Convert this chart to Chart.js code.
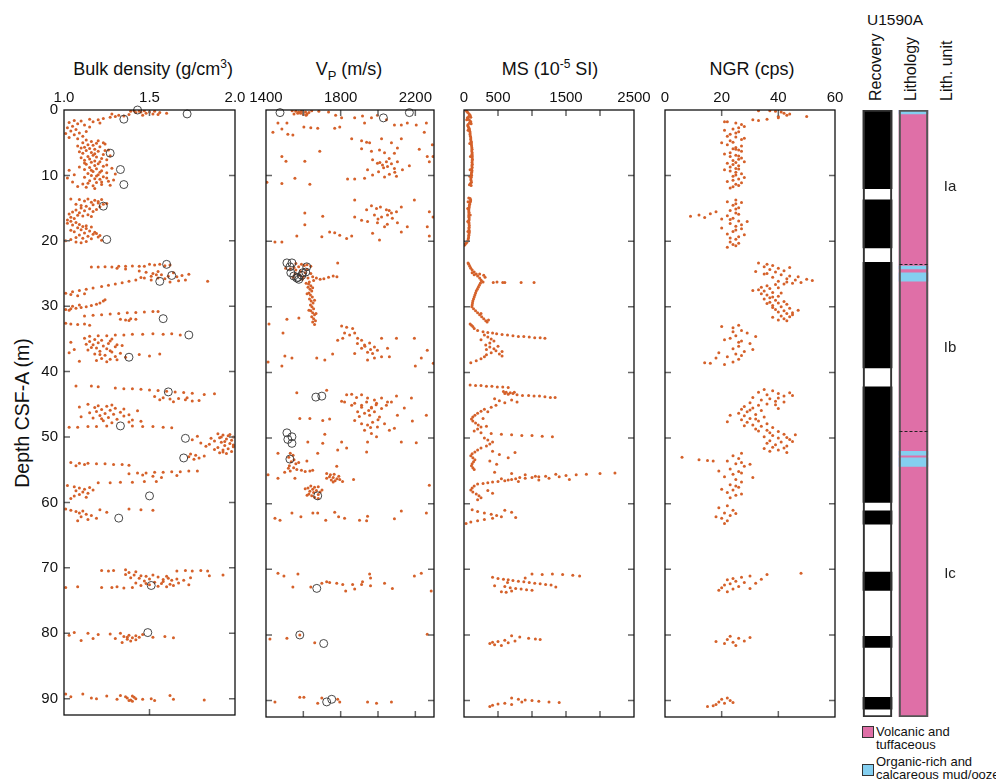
<!DOCTYPE html>
<html>
<head>
<meta charset="utf-8">
<script src="https://cdn.jsdelivr.net/npm/chart.js@4.4.0/dist/chart.umd.min.js"></script>
<style>
body { margin: 0; background: #fff; font-family: "Liberation Sans", Arial, sans-serif; color: #111; }
#wrap { position: relative; width: 996px; height: 781px; overflow: hidden; }
canvas { position: absolute; }
.ttl { position: absolute; top: 59px; font-size: 18px; line-height: 20px; transform: translateX(-50%); white-space: nowrap; }
sup { font-size: 12px; line-height: 0; vertical-align: 7px; }
sub { font-size: 13px; line-height: 0; vertical-align: -5px; }
.rot { position: absolute; font-size: 16px; line-height: 18px; transform-origin: 0 0; transform: rotate(-90deg); white-space: nowrap; }
.sw { position: absolute; width: 10px; height: 10px; border: 1px solid #333; }
.lg { position: absolute; font-size: 13px; line-height: 13px; white-space: nowrap; }
</style>
</head>
<body>
<div id="wrap">
  <div class="ttl" style="left:153px">Bulk density (g/cm<sup>3</sup>)</div>
  <div class="ttl" style="left:349px">V<sub>P</sub> (m/s)</div>
  <div class="ttl" style="left:550px">MS (10<sup>-5</sup> SI)</div>
  <div class="ttl" style="left:752px">NGR (cps)</div>
  <div style="position:absolute;left:22px;top:413px;font-size:19.5px;white-space:nowrap;transform:translate(-50%,-50%) rotate(-90deg)">Depth CSF-A (m)</div>

  <div style="position:absolute;left:895px;top:11px;font-size:15.5px;line-height:18px;transform:translateX(-50%)">U1590A</div>
  <div class="rot" style="left:866.5px;top:101px">Recovery</div>
  <div class="rot" style="left:902px;top:101px">Lithology</div>
  <div class="rot" style="left:938px;top:101px">Lith. unit</div>

  <div class="sw" style="left:862px;top:726px;background:#df6fa7"></div>
  <div class="lg" style="left:876px;top:725px">Volcanic and<br>tuffaceous</div>
  <div class="sw" style="left:862px;top:764px;background:#84cff0"></div>
  <div class="lg" style="left:876px;top:754.5px">Organic-rich and<br>calcareous mud/ooze</div>

  <canvas id="c1" width="255" height="650" style="left:0px;top:80px"></canvas>
  <canvas id="c2" width="215" height="650" style="left:240px;top:80px"></canvas>
  <canvas id="c3" width="215" height="650" style="left:440px;top:80px"></canvas>
  <canvas id="c4" width="215" height="650" style="left:640px;top:80px"></canvas>
  <canvas id="c5" width="120" height="650" style="left:850px;top:80px"></canvas>
</div>
<script>
// depth axis shared by every panel
const DEPTH_MAX = 92.5;
const depthTicks = [0, 10, 20, 30, 40, 50, 60, 70, 80, 90];

// [depth m, value] pairs
const densityPts = [
  [0.1,1.41],[0.2,1.44],[0.1,1.47],[0.3,1.50],[0.2,1.53],[0.4,1.56],[0.3,1.45],[0.5,1.48],[0.6,1.52],[0.4,1.42],[0.7,1.38],[0.8,1.32],[0.6,1.28],[0.9,1.35],[1.0,1.30],[0.5,1.60],[0.8,1.46],[0.2,1.39],[0.7,1.55],[1.1,1.27],
  [1.3,1.23],[1.5,1.20],[1.4,1.15],[1.7,1.10],[1.6,1.06],[1.9,1.03],[2.1,1.08],[1.8,1.17],[2.3,1.12],[2.5,1.05],[2.7,1.02],[3.0,1.07],[3.2,1.04],[3.5,1.09],[3.3,1.13],[3.8,1.06],[4.0,1.11],[4.2,1.03],[2.0,1.21],[2.6,1.15],[3.6,1.01],[4.4,1.08],
  [4.6,1.13],[4.8,1.16],[5.0,1.11],[5.1,1.19],[5.3,1.14],[5.4,1.17],[5.6,1.21],[5.7,1.12],[5.9,1.15],[6.0,1.18],[6.2,1.13],[6.3,1.20],[6.5,1.16],[6.6,1.11],[6.8,1.23],[6.9,1.17],[7.1,1.14],[7.2,1.19],[7.4,1.22],[7.5,1.15],[7.7,1.12],[7.8,1.18],[5.2,1.24],[6.1,1.26],[7.0,1.27],[6.4,1.09],[5.5,1.08],[7.6,1.25],
  [4.7,1.20],[5.0,1.23],[5.8,1.10],[6.2,1.24],[6.7,1.18],[7.3,1.10],[7.9,1.21],[8.4,1.25],[8.1,1.12],
  [8.0,1.16],[8.2,1.20],[8.3,1.13],[8.5,1.18],[8.6,1.23],[8.8,1.15],[9.0,1.19],[9.1,1.12],[9.3,1.22],[9.4,1.17],[9.6,1.25],[9.7,1.14],[9.9,1.20],[10.0,1.16],[10.2,1.23],[10.3,1.12],[10.5,1.18],[10.6,1.21],[10.8,1.15],[10.9,1.26],[11.1,1.19],[11.2,1.14],[11.4,1.22],[11.6,1.17],[11.8,1.13],[8.9,1.28],[9.8,1.30],[10.7,1.29],[11.5,1.27],[9.2,1.03],[9.9,1.06],[10.4,1.02],[11.0,1.05],[11.7,1.08],[8.7,1.09],
  [9.2,1.16],[9.5,1.21],[10.1,1.19],[10.4,1.25],[11.3,1.11],[11.0,1.22],[12.0,1.18],
  [13.6,1.04],[13.7,1.09],[13.6,1.14],[13.8,1.18],[13.7,1.22],[13.9,1.12],[14.1,1.16],[14.2,1.20],[14.4,1.23],[14.5,1.17],[14.7,1.13],[14.8,1.21],[15.0,1.10],[15.1,1.15],[15.3,1.07],[15.4,1.12],[15.6,1.05],[15.7,1.09],[15.9,1.03],[16.1,1.08],[16.2,1.11],[16.4,1.04],[16.6,1.06],[15.2,1.19],[14.3,1.25],[16.0,1.14],[16.8,1.02],
  [14.0,1.20],[14.6,1.10],[15.5,1.17],[14.4,1.07],[16.3,1.16],
  [17.0,1.04],[17.2,1.07],[17.3,1.02],[17.5,1.09],[17.6,1.05],[17.8,1.11],[18.0,1.08],[18.1,1.13],[18.3,1.10],[18.5,1.15],[18.6,1.06],[18.8,1.12],[19.0,1.17],[19.1,1.09],[19.3,1.14],[19.4,1.20],[19.6,1.11],[19.7,1.16],[19.9,1.22],[20.1,1.13],[20.2,1.07],[18.9,1.19],[19.8,1.04],[17.9,1.16],[20.0,1.01],
  [17.7,1.13],[18.4,1.04],[18.7,1.18],[19.2,1.21],[19.5,1.07],[20.3,1.10],
  [23.6,1.50],[23.7,1.53],[23.6,1.56],[23.8,1.59],[23.7,1.62],[23.9,1.47],[24.0,1.16],[24.0,1.20],[23.95,1.24],[24.0,1.28],[23.9,1.32],[23.9,1.36],[23.85,1.40],[23.9,1.44],[24.2,1.31],[24.3,1.36],
  [24.6,1.44],[24.8,1.48],[25.0,1.52],[25.2,1.57],[25.4,1.61],[25.5,1.66],[25.3,1.69],[25.1,1.73],[25.8,1.59],[26.0,1.51],[25.6,1.45],[24.9,1.64],[26.1,1.67],[26.2,1.84],[26.0,1.71],[25.7,1.55],[26.3,1.62],[24.7,1.55],
  [28.0,1.01],[27.8,1.05],[27.6,1.09],[27.4,1.13],[27.2,1.17],[27.0,1.22],[26.8,1.26],[26.6,1.30],[26.4,1.34],[26.2,1.38],[26.0,1.42],[25.7,1.47],[25.4,1.51],[25.2,1.54],[28.2,1.04],[28.4,1.08],[28.1,1.12],
  [30.5,1.01],[30.4,1.04],[30.3,1.07],[30.2,1.10],[30.1,1.13],[29.9,1.16],[29.7,1.19],[29.5,1.21],[29.2,1.23],[29.0,1.24],[30.0,1.05],[29.8,1.09],[30.6,1.03],
  [31.5,1.12],[31.4,1.17],[31.3,1.22],[31.2,1.27],[31.1,1.32],[31.0,1.37],[30.95,1.42],[30.9,1.47],[30.8,1.52],[30.8,1.55],[32.0,1.33],[32.1,1.36],[31.9,1.39],[32.0,1.42],[32.2,1.38],
  [32.6,1.01],[32.7,1.04],[32.8,1.08],[32.7,1.12],[32.9,1.15],
  [34.6,1.15],[34.5,1.20],[34.5,1.25],[34.4,1.30],[34.4,1.35],[34.3,1.40],[34.3,1.46],[34.2,1.52],[34.3,1.58],[34.2,1.63],[34.4,1.68],
  [34.9,1.12],[35.1,1.18],[35.2,1.22],[35.4,1.15],[35.6,1.20],[35.7,1.26],[35.9,1.17],[36.1,1.23],[36.2,1.30],[36.4,1.19],[36.5,1.25],[36.7,1.14],[36.9,1.21],[37.0,1.28],[37.2,1.33],[37.3,1.18],[37.5,1.24],[37.7,1.30],[37.8,1.36],[38.0,1.22],[38.1,1.27],[38.3,1.19],[38.5,1.25],[35.0,1.28],[36.0,1.34],[37.4,1.44],[37.6,1.50],[37.3,1.56],[35.5,1.04],[36.6,1.06],[37.1,1.03],[38.4,1.09],
  [35.3,1.27],[35.8,1.13],[36.3,1.16],[36.8,1.27],[37.4,1.21],[38.2,1.31],[35.9,1.31],
  [42.2,1.07],[42.2,1.16],[42.3,1.20],
  [42.5,1.30],[42.6,1.35],[42.6,1.40],[42.7,1.45],[42.8,1.50],[42.9,1.55],[43.0,1.60],[43.1,1.65],[43.2,1.70],[43.3,1.75],[43.5,1.82],[43.4,1.88],
  [43.8,1.53],[44.0,1.58],[44.2,1.62],[44.1,1.67],[44.3,1.71],[44.5,1.75],[44.4,1.79],[44.6,1.64],[44.0,1.72],[44.3,1.56],
  [45.0,1.14],[45.2,1.20],[45.3,1.25],[45.5,1.18],[45.6,1.30],[45.8,1.22],[45.9,1.27],[46.1,1.19],[46.2,1.33],[46.4,1.24],[46.5,1.29],[46.7,1.21],[46.8,1.35],[47.0,1.26],[47.1,1.17],[47.3,1.31],[47.5,1.23],[47.7,1.38],[47.8,1.28],[46.0,1.43],[45.4,1.09],[46.9,1.10],[47.6,1.45],
  [45.7,1.35],[46.3,1.15],[46.6,1.38],[47.2,1.22],[47.4,1.40],[45.1,1.28],
  [48.5,1.03],[48.5,1.08],[48.4,1.14],[48.4,1.19],[48.3,1.25],[48.3,1.40],[48.4,1.46],[48.4,1.52],[48.5,1.58],[48.6,1.63],
  [49.5,1.90],[49.7,1.93],[49.8,1.96],[50.0,1.99],[50.1,1.91],[50.3,1.95],[50.5,1.98],[50.6,1.88],[50.8,1.92],[51.0,1.97],[51.1,1.85],[51.3,1.94],[51.5,1.99],[51.6,1.90],[51.8,1.96],[52.0,1.93],[52.2,1.98],[52.4,1.91],[52.5,1.95],[49.9,1.78],[50.4,1.75],[50.9,1.80],[51.4,1.83],[50.2,1.86],
  [49.6,1.97],[50.7,1.94],[51.2,1.99],[51.9,1.88],[52.3,1.93],[50.0,1.92],
  [52.6,1.74],[52.8,1.77],[53.0,1.73],[53.2,1.79],[53.4,1.76],[52.9,1.82],
  [53.9,1.04],[54.0,1.09],[54.0,1.14],[54.1,1.19],[54.1,1.24],[54.2,1.29],[54.2,1.34],[54.3,1.38],[54.2,1.12],[54.4,1.07],
  [55.6,1.38],[55.5,1.43],[55.5,1.48],[55.4,1.53],[55.4,1.58],[55.3,1.63],[55.3,1.68],[55.2,1.73],[55.2,1.78],[55.8,1.46],[56.0,1.52],[56.2,1.57],[55.9,1.66],
  [57.0,1.20],[57.0,1.27],[56.9,1.33],[56.9,1.40],[56.8,1.47],[56.8,1.54],
  [57.4,1.02],[57.6,1.06],[57.8,1.09],[58.0,1.12],[58.2,1.07],[58.4,1.11],[58.6,1.14],[58.8,1.09],[59.0,1.06],[59.2,1.13],[59.4,1.04],[58.1,1.17],[57.7,1.15],
  [61.0,1.01],[61.2,1.04],[61.4,1.07],[61.3,1.11],[61.6,1.09],[61.8,1.13],[62.0,1.16],[62.2,1.10],[62.4,1.19],[62.6,1.14],[61.1,1.21],[61.0,1.38],[61.1,1.45],[61.2,1.52],[62.8,1.08],[61.5,1.25],
  [70.4,1.22],[70.5,1.26],[70.4,1.29],[70.3,1.36],[70.6,1.42],[70.5,1.66],[70.4,1.71],[70.5,1.75],[70.4,1.80],[70.5,1.84],[70.7,1.38],
  [71.0,1.36],[71.1,1.41],[71.2,1.45],[71.3,1.48],[71.1,1.52],[71.4,1.55],[71.5,1.39],[71.6,1.44],[71.7,1.50],[71.8,1.58],[71.6,1.61],[71.7,1.66],[71.9,1.70],[71.5,1.74],[72.0,1.47],[72.2,1.53],[72.3,1.42],[72.4,1.57],[72.5,1.62],[72.3,1.67],[72.6,1.50],[72.8,1.55],[72.7,1.45],[73.0,1.40],[73.1,1.35],[72.9,1.60],[72.6,1.73],
  [71.9,1.63],[72.1,1.58],[72.4,1.48],[71.3,1.60],[72.7,1.64],[71.2,1.85],[71.1,1.93],
  [73.0,1.01],[72.9,1.08],[73.0,1.22],[73.0,1.28],[72.9,1.31],
  [79.9,1.06],[80.3,1.03],[80.0,1.14],[80.2,1.20],[80.1,1.27],[80.0,1.33],[80.3,1.38],[80.5,1.35],[80.7,1.40],[80.6,1.44],[80.9,1.37],[81.0,1.42],[81.2,1.39],[80.8,1.30],[81.4,1.34],[80.2,1.46],[80.6,1.52],[80.5,1.59],[80.7,1.64],[81.1,1.10],[80.8,1.17],
  [80.4,1.42],[80.6,1.37],
  [89.3,1.01],[89.7,1.04],[89.3,1.11],[89.9,1.16],[90.0,1.19],[89.6,1.25],[90.1,1.31],[89.5,1.33],[89.9,1.37],[90.2,1.39],[89.6,1.40],[90.0,1.42],[90.3,1.38],[89.8,1.41],[90.1,1.46],[90.4,1.40],[89.7,1.36],[90.0,1.51],[90.3,1.53],[89.5,1.62],[90.1,1.64],[90.2,1.82]
];
const densityDisc = [
  [0.0,1.43],[0.6,1.72],[1.4,1.35],[6.6,1.27],[9.1,1.33],[11.4,1.35],[14.7,1.23],[19.8,1.25],[23.6,1.60],[25.3,1.63],[26.2,1.56],
  [31.9,1.58],[34.4,1.73],[37.8,1.38],[43.1,1.61],[48.3,1.33],[50.2,1.71],[53.2,1.70],[59.0,1.50],[62.4,1.32],[72.7,1.51],[79.9,1.49]
];

const vpPts = [
  [0.1,1540],[0.2,1560],[0.3,1575],[0.2,1590],[0.4,1600],[0.3,1612],[0.5,1585],[0.6,1620],[0.4,1630],[0.1,1645],[0.5,1570],[0.7,1600],[0.2,1683],[0.3,1735],[0.8,1615],[0.6,1550],
  [0.8,1773],[1.2,1805],[1.2,1875],[0.9,1917],[1.2,1965],[0.8,1997],[1.5,2045],[2.3,2088],[2.3,2125],[2.0,2157],[2.3,2205],[3.4,2248],[2.0,2259],[2.6,1795],[2.0,1928],
  [3.4,1437],[2.0,1464],[2.9,1485],[2.0,1512],[3.7,1517],[3.8,1544],[2.6,1603],[2.7,1640],[2.8,1677],[2.8,1768],
  [4.4,1859],[4.7,1912],[4.9,1939],[5.0,1955],[4.4,2019],[5.0,2072],[4.4,2125],[6.0,2221],[5.9,1912],[6.3,1965],[6.1,2008],[6.5,2035],[6.6,2088],[5.8,2104],
  [7.6,1971],[8.1,1997],[8.4,2024],[7.9,2045],[8.6,2051],[8.2,2072],[8.9,2088],[7.9,2104],[9.1,2131],[8.5,2168],[9.1,1944],[9.9,1971],[9.4,2003],[10.2,2035],[9.8,2061],[10.1,2099],
  [8.0,2010],[8.8,2030],[9.5,2090],[7.4,2060],
  [10.5,1875],[10.4,1928],[10.5,1837],[7.1,2264],[7.9,2275],[5.3,2291],[7.1,2295],
  [7.1,1485],[7.8,1507],[7.8,1608],[6.3,1688],[10.4,1555],[11.2,1485],[11.3,1635],[11.0,1405],
  [13.7,1875],[15.2,1939],[14.6,1965],[15.0,1992],[14.8,2013],[15.2,2045],[15.7,2072],[15.5,2099],[14.8,2125],[16.0,1981],[16.3,2019],[16.0,2051],[16.5,2077],
  [15.3,2060],[16.6,2000],[17.4,2050],
  [16.3,1875],[16.8,1912],[17.0,1944],[17.2,1997],[17.8,2035],[17.2,2104],[17.8,2157],[13.7,2195],[15.5,2275],[16.3,2295],[17.8,2264],[18.8,1971],[19.8,2008],[18.6,2125],[19.2,2275],
  [18.6,1741],[18.7,1768],[19.1,1795],[19.6,1832],[19.2,1859],[19.3,1699],[19.2,1565],[20.1,1448],[20.1,1485],[15.7,1608],[16.2,1704],[17.5,1608],
  [23.4,1560],[23.5,1590],[23.6,1620],[23.7,1605],[23.9,1575],[24.0,1550],[24.2,1530],[24.4,1560],[24.6,1585],[24.8,1610],[25.0,1555],[25.2,1580],[25.4,1600],[25.6,1625],[25.8,1595],[24.3,1620],[24.9,1640],[24.1,1505],[25.5,1545],[23.8,1640],
  [25.4,1650],[25.6,1670],[25.8,1690],[25.7,1710],[25.5,1735],[25.3,1760],[25.4,1780],[26.0,1655],[23.3,1784],
  [26.2,1632],[26.5,1628],[26.8,1640],[27.0,1625],[27.3,1636],[27.6,1645],[27.9,1630],[28.2,1638],[28.5,1648],[28.8,1633],[29.1,1642],[29.4,1652],[29.7,1638],[30.0,1646],[30.3,1655],[30.6,1640],[30.9,1650],[31.2,1660],[31.5,1645],[31.8,1655],[32.1,1665],[32.3,1650],[27.1,1650],[28.0,1620],[29.0,1660],[30.5,1630],[31.0,1668],[26.4,1615],[32.7,1660],
  [32.9,1805],[33.1,1832],[33.3,1864],[34.0,1821],[34.3,1848],[34.0,1875],[34.8,1891],[35.1,1912],[35.8,1928],[35.5,1955],[36.1,1981],[36.3,1912],[36.9,1944],[37.1,1971],[36.6,1997],[37.6,2019],[36.3,2051],[37.6,2061],[35.1,1784],[34.8,1811],[34.8,2019],[38.1,1944],[37.8,1981],[37.1,1875],
  [36.0,1930],[36.5,1960],[35.6,1890],
  [34.8,2099],[34.8,2195],[36.6,2264],[37.8,2232],[39.0,2200],[38.6,2296],
  [32.6,1416],[31.9,1512],[31.7,1576],[34.0,1491],[37.8,1539],[37.5,1501],[39.0,1485],[37.8,1672],[38.1,1715],[37.2,1757],[38.4,1411],
  [44.4,1805],[43.4,1832],[43.3,1859],[43.8,1885],[43.4,1912],[43.9,1944],[44.2,1981],[43.9,2019],[44.5,2051],[43.6,2099],[43.9,2179],[42.7,1725],[43.1,1565],[45.0,1859],[45.3,1912],[45.4,1965],
  [44.5,1821],[44.7,1875],[45.0,1912],[44.5,1939],[45.3,1965],[44.7,1992],[45.5,2019],[45.0,2045],[44.5,2072],[46.0,1891],[46.2,1928],[46.5,1955],[46.0,1981],[46.8,2008],[47.3,1875],[47.8,1912],[48.0,1944],[47.6,1971],[48.3,1997],[47.8,2035],[48.8,2061],[48.5,2088],[48.8,1928],[49.3,1965],[49.8,1992],[50.6,1944],[52.1,1939],[50.6,2125],[50.7,2205],[46.5,2259],[45.4,2141],[47.4,2184],[46.5,2104],
  [45.8,1950],[46.7,1900],[47.2,2000],[44.9,1990],[48.4,1960],
  [47.0,1581],[47.0,1635],[47.3,1704],[47.1,1741],[49.4,1715],[50.6,1624],[50.8,1704],[50.6,1805],[51.5,1832],[51.8,1784],[52.3,1677],[52.3,1464],[53.5,1619],[54.3,1779],[56.3,1869],[55.6,1411],[56.1,1464],[56.1,1555],[57.2,2275],
  [52.3,1530],[52.6,1545],[52.9,1522],[53.3,1550],[53.6,1535],[53.9,1560],[54.2,1525],[54.5,1548],[54.8,1565],[55.0,1530],[54.6,1520],[53.7,1575],[54.9,1590],[55.1,1610],[55.0,1635],[54.9,1650],[55.2,1500],
  [55.4,1725],[55.6,1745],[55.5,1765],[55.9,1740],[56.0,1760],[56.2,1780],[56.4,1750],[56.5,1770],[56.3,1795],[56.6,1810],[55.8,1790],[56.1,1725],[56.7,1760],
  [57.3,1640],[57.5,1660],[57.6,1625],[57.8,1650],[58.0,1670],[58.1,1635],[58.3,1655],[58.5,1630],[58.6,1680],[58.8,1645],[59.0,1660],[58.2,1690],[57.9,1700],[57.7,1610],[59.2,1680],[57.4,1680],[58.7,1620],
  [62.2,1448],[62.5,1475],[61.4,1539],[62.0,1587],[61.4,1651],[61.4,1677],[62.5,1720],[61.3,1768],[62.0,1789],[62.2,1821],[62.5,1901],[62.6,1939],[61.9,1944],[62.3,2088],[61.1,2125],[61.4,2259],
  [70.6,1464],[71.0,1496],[70.7,1571],[72.7,1544],[72.7,1640],[72.1,1699],[71.9,1725],[72.0,1741],[72.1,1779],[72.3,1811],[73.3,1827],[72.3,1864],[73.0,1875],[72.3,1912],[71.9,1917],[70.7,1955],[71.3,1960],[72.5,1960],[72.1,2035],[72.9,2077],[71.0,2195],[70.6,2232],[73.3,2285],
  [80.6,1421],[80.5,1512],[80.0,1581],[81.2,1661],[79.9,2264],
  [90.2,1448],[89.5,1581],[89.5,1603],[90.4,1677],[89.6,1699],[89.8,1784],[90.2,1795],[90.2,1944],[90.4,1992],[90.2,2072]
];
const vpDisc = [
  [0.4,1475],[0.4,2168],[1.2,2029],
  [23.3,1512],[23.3,1539],[23.9,1528],[24.8,1533],[25.3,1549],[25.6,1565],[25.8,1576],[24.8,1597],[24.7,1613],[23.9,1618],[25.2,1592],[25.5,1571],
  [43.75,1667],[43.6,1699],[49.2,1512],[50.2,1517],[49.8,1539],[50.8,1539],[53.2,1528],[58.8,1677],[72.9,1672],[80.0,1581],[81.3,1709],[90.2,1725],[89.8,1752]
];

const msPts = [
  [0.0,25],[0.2,40],[0.4,55],[0.6,75],[0.8,90],[1.0,70],[1.2,50],[1.4,65],[1.6,85],[1.8,100],[2.0,80],[2.2,60],[2.4,55],[2.6,65],[2.8,75],[3.0,80],[3.25,85],[3.5,90],[3.75,88],[4.0,95],[4.25,100],[4.5,98],[4.75,105],[5.0,110],[5.25,108],[5.5,112],[5.75,115],[6.0,118],[6.25,114],[6.5,120],[6.75,117],[7.0,122],[7.25,119],[7.5,124],[7.75,120],[8.0,118],[8.25,122],[8.5,116],[8.75,120],[9.0,114],[9.25,118],[9.5,112],[9.75,108],[10.0,112],[10.25,106],[10.5,100],[10.75,104],[11.0,110],[11.2,95],[11.4,80],[11.5,105],
  [1.1,100],[1.5,40],[2.1,105],[3.1,60],[5.1,85],[7.1,95],[9.1,90],[10.1,85],
  [13.4,70],[13.5,90],[13.7,98],[13.9,95],[14.1,88],[14.35,82],[14.6,78],[14.85,75],[15.1,72],[15.35,70],[15.6,74],[15.85,72],[16.1,70],[16.35,73],[16.6,76],[16.85,72],[17.1,70],[17.35,74],[17.6,77],[17.85,75],[18.1,72],[18.35,76],[18.6,79],[18.85,74],[19.1,70],[19.35,68],[19.6,64],[19.85,58],[20.1,45],[20.3,30],[20.5,15],[20.6,5],[15.0,55],[17.0,55],[18.5,58],[16.0,92],[14.0,60],
  [23.3,60],[23.5,70],[23.8,85],[24.1,100],[24.4,120],[24.7,150],[25.0,180],[25.3,200],[25.6,230],[25.9,250],[26.1,260],[24.8,120],[25.0,230],[25.2,290],[25.5,310],[25.1,150],
  [26.2,280],[26.3,430],[26.2,485],[26.3,570],[26.3,600],[26.3,840],[26.3,1030],
  [26.4,240],[26.7,225],[27.0,210],[27.3,195],[27.6,180],[27.9,170],[28.2,160],[28.5,150],[28.8,140],[29.1,130],[29.4,125],[29.7,120],[30.0,115],
  [30.3,140],[30.6,170],[30.9,200],[31.2,230],[31.5,260],[31.8,290],[32.1,320],[32.3,340],[31.0,250],[32.0,360],
  [32.6,90],[32.8,110],[33.0,130],[33.3,150],[33.6,200],[33.8,280],[33.9,350],[34.0,420],
  [34.1,480],[34.2,560],[34.3,640],[34.4,720],[34.5,800],[34.5,880],[34.6,960],[34.7,1040],[34.7,1120],[34.8,1190],
  [34.3,300],[34.6,350],[34.9,400],[35.2,440],[35.5,380],[35.8,320],[36.1,380],[36.4,440],[36.7,470],[37.0,400],[37.3,330],[37.6,300],[37.9,250],[38.2,180],[38.5,100],[35.0,250],[36.0,500],[36.5,330],[37.2,520],[37.5,560],[36.8,560],
  [41.9,90],[42.0,170],[42.0,250],[42.1,330],[42.1,410],[42.2,490],[42.2,570],[42.3,650],
  [42.9,580],[43.0,620],[43.1,680],[43.2,720],[43.3,650],[43.0,740],[43.2,600],
  [43.4,780],[43.5,860],[43.5,950],[43.6,1030],[43.6,1110],[43.7,1190],[43.8,1270],[43.8,1340],
  [44.0,450],[44.3,520],[44.6,600],[45.0,470],[45.3,400],[44.2,700],[44.5,780],
  [45.6,300],[45.9,250],[46.2,200],[46.5,160],[46.8,130],[47.1,110],[47.4,130],[47.7,170],[48.0,210],[48.3,250],[48.6,200],[48.9,150],[46.0,350],[47.0,280],[48.2,330],
  [49.2,250],[49.3,400],[49.4,550],[49.5,700],[49.6,850],[49.6,1000],[49.7,1150],[49.8,1300],[50.0,300],[50.3,350],[50.6,420],[50.9,380],[51.2,330],
  [51.5,250],[51.8,200],[52.1,160],[52.4,120],[52.7,100],[53.0,130],[53.3,160],[53.6,140],[53.9,120],[54.2,110],[54.5,130],[54.8,150],[52.0,420],[52.5,520],[53.0,650],[52.2,750],[53.5,380],[54.0,480],
  [55.3,2220],[55.4,2000],[55.5,1800],[55.6,1650],[55.7,1500],[55.5,1350],[55.8,1200],[55.9,1100],[56.0,1000],[56.1,900],[56.0,820],[56.2,760],[56.3,700],[56.4,650],[56.5,600],[56.2,550],[56.6,500],[56.7,420],[56.8,350],[56.9,280],[55.2,450],[55.4,700],[55.6,900],[55.8,1050],[56.1,1250],[55.9,1400],[56.3,1550],[56.4,1100],[56.6,800],[57.0,200],
  [57.3,150],[57.6,120],[57.9,100],[58.2,130],[58.5,180],[58.8,220],[59.1,250],[59.4,200],[58.0,350],[58.4,420],
  [60.9,120],[61.2,200],[61.4,300],[61.6,400],[61.8,480],[62.0,550],[62.2,420],[62.4,300],[62.6,200],[62.8,100],[63.0,30],[61.0,600],[61.3,700],[62.1,760],
  [70.7,1000],[70.8,1150],[70.7,1300],[70.8,1450],[70.9,1600],[71.0,1700],[71.2,420],[71.4,500],[71.5,580],[71.6,650],[71.7,720],[71.8,800],[71.9,880],[72.0,960],[72.1,1040],[72.2,1120],[72.3,1200],[72.4,1280],[72.6,600],[72.8,680],[72.9,760],[73.0,840],[73.1,920],[73.3,700],[73.5,620],[73.2,1000],[72.7,1350],[72.5,450],[73.4,550],[71.3,900],[72.0,640],
  [80.1,700],[80.3,820],[80.5,950],[80.6,1050],[80.7,1120],[80.8,600],[81.0,500],[81.1,420],[81.3,380],[81.5,450],[81.6,550],[80.9,750],[81.2,650],
  [89.6,700],[89.8,800],[89.9,900],[90.0,1000],[90.1,1100],[90.2,1250],[90.3,1400],[90.4,600],[90.5,500],[90.7,420],[90.9,380],[90.6,700],[90.2,850]
];

const ngrPts = [
  [0.1,33],[0.1,37],[0.3,41],[0.5,42],[0.8,43],[1.0,40],[1.2,40],[1.0,50],[1.4,36],[1.5,31],[1.6,33],[1.8,21],[1.8,22],[2.0,25],[2.2,27],[2.5,28],[2.7,26],[0.6,44],[0.2,39],
  [2.9,24],[3.3,26],[3.7,23],[4.1,25],[4.5,27],[4.9,24],[5.3,22],[5.7,25],[6.1,26],[6.5,23],[6.9,25],[7.3,27],[7.7,24],[8.1,22],[8.5,26],[8.9,25],[9.3,23],[9.7,27],[10.1,24],[10.5,26],[10.9,22],[11.3,25],[11.7,24],[3.1,21],[4.3,28],[5.5,27],[6.7,21],[7.9,28],[9.1,21],[10.3,28],[11.1,27],[5.0,20],[8.0,25],[9.5,25],
  [3.5,25],[4.7,23],[5.9,24],[6.3,27],[7.1,23],[7.5,26],[8.3,24],[8.7,23],[9.9,25],[10.7,24],[11.5,26],[11.9,23],[4.0,22],[6.0,25],[7.0,26],[9.0,26],
  [13.7,25],[14.1,27],[14.5,24],[14.9,26],[15.3,23],[15.7,25],[16.1,22],[16.5,24],[16.9,26],[17.3,23],[17.7,25],[18.1,27],[18.5,24],[18.9,22],[19.3,26],[19.7,25],[20.1,23],[20.5,24],[20.9,22],[15.5,18],[15.8,16],[16.0,12],[16.2,9],[16.4,14],[16.6,20],[18.0,20],[19.0,28],[17.0,29],[14.0,22],
  [14.3,25],[15.1,25],[15.9,26],[16.7,23],[17.5,27],[18.3,25],[19.5,23],[20.3,26],[20.7,25],
  [23.3,33],[23.5,36],[23.7,38],[23.9,35],[24.1,40],[24.3,37],[24.5,42],[24.7,39],[24.9,36],[25.1,41],[25.3,44],[25.5,38],[25.7,43],[25.9,46],[26.1,40],[26.3,48],[25.8,50],[26.0,52],[26.4,45],[26.6,39],[26.8,36],[27.0,34],[27.2,37],[27.4,33],[27.6,35],[27.8,38],[28.0,34],[28.2,36],[28.4,40],[28.6,37],[28.8,35],[29.0,39],[29.2,42],[29.4,40],[29.6,43],[29.8,38],[30.0,41],[30.2,44],[30.4,39],[30.6,42],[30.8,40],[31.0,43],[31.2,45],[31.4,41],[31.6,38],[31.8,42],[32.0,40],[24.6,32],[27.5,31],[29.5,36],[30.5,47],[26.5,42],
  [24.0,44],[25.0,35],[25.4,47],[26.2,43],[27.1,40],[27.9,41],[28.5,38],[29.3,37],[30.1,38],[30.9,45],[31.5,44],[32.1,43],
  [32.8,26],[33.2,24],[33.6,27],[34.0,29],[34.4,25],[34.8,23],[35.2,27],[35.6,30],[36.0,26],[36.4,24],[36.8,28],[37.2,25],[37.6,22],[38.0,26],[38.4,24],[38.8,21],[33.0,20],[35.0,21],[36.5,31],[37.0,19],[38.6,16],[38.5,14],[37.8,18],[34.5,32],
  [33.8,24],[35.4,26],[37.4,27],
  [42.6,35],[42.8,38],[43.0,33],[43.2,40],[43.4,36],[43.6,42],[43.8,31],[44.0,37],[44.2,34],[44.4,39],[44.6,30],[44.8,36],[45.0,33],[45.2,28],[45.4,31],[45.6,27],[45.8,34],[46.0,29],[46.2,26],[46.4,32],[46.6,28],[46.8,35],[47.0,30],[47.2,27],[47.4,33],[47.6,29],[47.8,36],[48.0,31],[48.2,34],[48.4,38],[48.6,32],[48.8,36],[49.0,40],[49.2,37],[49.4,42],[49.6,38],[49.8,35],[50.0,40],[50.2,44],[50.4,37],[50.6,41],[50.8,36],[51.0,39],[51.2,43],[51.4,38],[51.6,35],[51.8,40],[52.0,37],[43.5,45],[46.5,23],[47.5,22],[49.5,46],[45.5,40],[44.5,42],
  [43.1,44],[43.9,40],[44.9,39],[45.7,30],[47.1,32],[48.1,28],[48.9,33],[49.9,43],[50.5,45],[51.5,42],[52.2,43],
  [52.3,27],[52.7,24],[53.1,26],[53.5,22],[53.9,25],[54.3,28],[54.7,23],[55.1,26],[55.5,24],[55.9,21],[56.3,25],[56.7,27],[57.1,23],[57.5,26],[57.9,24],[58.3,22],[58.7,25],[59.1,23],[53.3,12],[53.4,15],[53.5,17],[52.9,6],[54.0,30],[56.0,31],[57.8,20],[55.0,19],
  [53.7,27],[55.3,27],[57.3,25],[58.5,27],
  [60.3,22],[60.6,19],[61.0,24],[61.4,21],[61.8,23],[62.2,20],[62.6,22],[63.0,21],[61.5,25],[62.0,18],
  [70.6,48],[70.8,36],[71.0,30],[71.2,27],[71.4,24],[71.6,22],[71.8,25],[72.0,28],[72.2,23],[72.4,21],[72.6,26],[72.8,20],[73.0,24],[73.2,19],[73.4,22],[72.1,32],[71.5,34],[72.9,30],
  [80.2,23],[80.5,26],[80.7,22],[80.9,28],[81.1,24],[81.3,21],[81.6,25],[81.0,18],[80.4,30],
  [89.6,22],[89.8,20],[90.0,23],[90.2,19],[90.4,21],[90.6,18],[90.8,17],[90.3,24],[90.9,15]
];

// core column: recovered intervals, lithology bands, unit boundaries
const recovered = [[0,12.0],[13.7,21.0],[23.2,39.3],[42.2,59.8],[61.1,63.1],[70.4,73.2],[80.2,81.9],[89.5,91.3]];
const blueBands = [[0,0.6],[23.8,24.2],[24.8,26.1],[52.0,52.6],[53.0,54.3]];
const unitTops = [23.5, 48.9];
const unitNames = ['Ia', 'Ib', 'Ic'];

const orange = '#d5612a';
const pink = '#df6fa7';
const blue = '#84cff0';

Chart.defaults.font.family = "'Liberation Sans', Arial, Helvetica, sans-serif";
Chart.defaults.font.size = 15;
Chart.defaults.color = '#111';

// box around the plot plus inward tick marks on all four sides
const frameTicks = {
  id: 'frameTicks',
  afterDraw(chart, args, opts) {
    const ctx = chart.ctx, a = chart.chartArea;
    const sx = chart.scales.x, sy = chart.scales.y;
    ctx.save();
    ctx.strokeStyle = '#666';
    ctx.lineWidth = 1.5;
    ctx.beginPath();
    (opts.xMarks || []).forEach(v => {
      const px = sx.getPixelForValue(v);
      if (px <= a.left + 1 || px >= a.right - 1) return;
      ctx.moveTo(px, a.top); ctx.lineTo(px, a.top + 6);
      ctx.moveTo(px, a.bottom); ctx.lineTo(px, a.bottom - 6);
    });
    depthTicks.forEach(d => {
      const py = sy.getPixelForValue(d);
      if (py <= a.top + 1 || py >= a.bottom - 1) return;
      ctx.moveTo(a.left, py); ctx.lineTo(a.left + 6, py);
      ctx.moveTo(a.right, py); ctx.lineTo(a.right - 6, py);
    });
    ctx.stroke();
    ctx.strokeStyle = '#111';
    ctx.lineWidth = 1.3;
    ctx.strokeRect(a.left, a.top, a.right - a.left, a.bottom - a.top);
    ctx.restore();
  }
};

function makePanel(id, cfg) {
  return new Chart(document.getElementById(id), {
    type: 'scatter',
    data: {
      datasets: [
        { data: (cfg.disc || []).map(p => ({ x: p[1], y: p[0] })), pointRadius: 4, pointBackgroundColor: 'rgba(0,0,0,0)',
          pointBorderColor: '#333', pointBorderWidth: 0.9, order: 0, clip: false },
        { data: cfg.pts.map(p => ({ x: p[1], y: p[0] })), pointRadius: 1.5, pointBackgroundColor: orange,
          pointBorderWidth: 0, order: 1 }
      ]
    },
    options: {
      responsive: false, animation: false, events: [], devicePixelRatio: 1,
      layout: { autoPadding: false, padding: { left: 0, right: cfg.padRight, top: 0, bottom: 13 } },
      plugins: { legend: { display: false }, tooltip: { enabled: false }, frameTicks: { xMarks: cfg.xMarks } },
      scales: {
        x: {
          type: 'linear', position: 'top', min: cfg.min, max: cfg.max,
          grid: { display: false, drawTicks: false }, border: { display: false },
          ticks: { stepSize: cfg.step, includeBounds: false, autoSkip: false, maxRotation: 0, padding: 3, callback: cfg.label },
          afterFit: s => { s.height = 30; }
        },
        y: {
          type: 'linear', reverse: true, min: 0, max: DEPTH_MAX,
          grid: { display: false, drawTicks: false }, border: { display: false },
          ticks: { display: !!cfg.depthLabels, stepSize: 10, includeBounds: false, autoSkip: false, padding: 6 },
          afterFit: s => { s.width = cfg.yWidth; }
        }
      }
    },
    plugins: [frameTicks]
  });
}

makePanel('c1', { pts: densityPts, disc: densityDisc, min: 1, max: 2, step: 0.5, xMarks: [1, 1.5, 2],
  label: v => v.toFixed(1), yWidth: 64, padRight: 20, depthLabels: true });
makePanel('c2', { pts: vpPts, disc: vpDisc, min: 1400, max: 2300, step: 200, xMarks: [1600, 1800, 2000, 2200],
  label: v => (v % 400 === 0 ? '' : String(v)), yWidth: 26, padRight: 21 });
makePanel('c3', { pts: msPts, min: 0, max: 2500, step: 500, xMarks: [500, 1000, 1500, 2000],
  label: v => (v !== 0 && v % 1000 === 0 ? '' : String(v)), yWidth: 24, padRight: 21 });
makePanel('c4', { pts: ngrPts, min: 0, max: 60, step: 20, xMarks: [20, 40],
  label: v => String(v), yWidth: 25, padRight: 20 });

// dashed unit boundaries and unit names beside the lithology column
const unitMarks = {
  id: 'unitMarks',
  afterDatasetsDraw(chart) {
    const ctx = chart.ctx, sx = chart.scales.x, sy = chart.scales.y, a = chart.chartArea;
    const cx = sx.getPixelForValue(1);
    ctx.save();
    ctx.strokeStyle = '#222';
    ctx.lineWidth = 1;
    ctx.setLineDash([3, 2]);
    unitTops.forEach(d => {
      const y = Math.round(sy.getPixelForValue(d)) + 0.5;
      ctx.beginPath(); ctx.moveTo(cx - 14, y); ctx.lineTo(cx + 14, y); ctx.stroke();
    });
    ctx.setLineDash([]);
    ctx.fillStyle = '#222';
    ctx.font = "15px 'Liberation Sans', Arial, sans-serif";
    ctx.textAlign = 'center';
    ctx.textBaseline = 'middle';
    const edges = [0, ...unitTops, DEPTH_MAX];
    unitNames.forEach((n, i) => ctx.fillText(n, a.right + 18.5, sy.getPixelForValue((edges[i] + edges[i + 1]) / 2)));
    ctx.restore();
  }
};

new Chart(document.getElementById('c5'), {
  type: 'bar',
  data: {
    labels: ['rec', 'lith'],
    datasets: [
      { data: [{ x: 'rec', y: [0, DEPTH_MAX] }, { x: 'lith', y: [0, DEPTH_MAX] }], backgroundColor: 'rgba(0,0,0,0)',
        borderColor: ['#333', '#555'], borderWidth: 1.5, order: 0 },
      { data: recovered.map(r => ({ x: 'rec', y: r })), backgroundColor: '#000', borderWidth: 0, order: 1 },
      { data: blueBands.map(r => ({ x: 'lith', y: r })), backgroundColor: blue, borderWidth: 0, order: 1 },
      { data: [{ x: 'lith', y: [0, DEPTH_MAX] }], backgroundColor: pink, borderWidth: 0, order: 2 }
    ]
  },
  options: {
    responsive: false, animation: false, events: [], devicePixelRatio: 1,
    datasets: { bar: { grouped: false, barThickness: 29, borderSkipped: false } },
    layout: { autoPadding: false, padding: { left: 9.5, right: 38.5, top: 30, bottom: 13 } },
    plugins: { legend: { display: false }, tooltip: { enabled: false } },
    scales: {
      x: { display: false },
      y: { display: false, reverse: true, min: 0, max: DEPTH_MAX }
    }
  },
  plugins: [unitMarks]
});
</script>
</body>
</html>
